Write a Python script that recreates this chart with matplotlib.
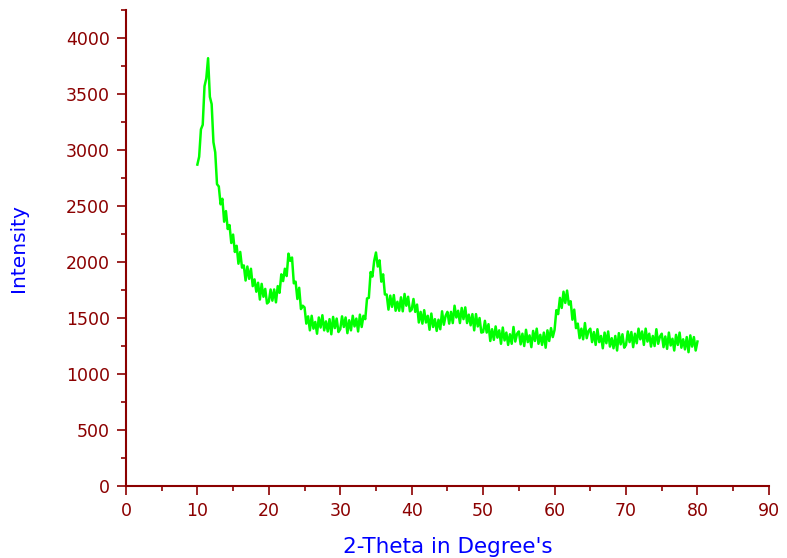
import numpy as np
import matplotlib.pyplot as plt
from matplotlib.ticker import MultipleLocator

# XRD scan, 2-theta from 10 to 80 deg in 0.25 deg steps
theta_start = 10.0
theta_step = 0.25

intensity = [
    # 10.00 - 14.75
    2870, 2940, 3185, 3225, 3570, 3640, 3820, 3475, 3410, 3070,
    2980, 2695, 2675, 2515, 2565, 2360, 2455, 2295, 2330, 2170,
    # 15.00 - 19.75
    2245, 2090, 2145, 1985, 2090, 1950, 1970, 1835, 1960, 1850,
    1940, 1785, 1845, 1735, 1815, 1665, 1805, 1690, 1760, 1630,
    # 20.00 - 24.75
    1645, 1755, 1655, 1755, 1640, 1785, 1725, 1890, 1830, 1940,
    1875, 2075, 2010, 2040, 1810, 1825, 1670, 1770, 1580, 1610,
    # 25.00 - 29.75
    1595, 1450, 1515, 1390, 1520, 1405, 1465, 1360, 1505, 1415,
    1525, 1390, 1470, 1380, 1490, 1355, 1510, 1410, 1495, 1375,
    # 30.00 - 34.75
    1400, 1515, 1420, 1505, 1365, 1480, 1390, 1520, 1425, 1495,
    1380, 1530, 1420, 1520, 1490, 1675, 1680, 1910, 1870, 2010,
    # 35.00 - 39.75
    2085, 1960, 2015, 1825, 1890, 1710, 1710, 1575, 1700, 1600,
    1705, 1565, 1645, 1565, 1685, 1560, 1715, 1610, 1690, 1560,
    # 40.00 - 44.75
    1575, 1670, 1555, 1620, 1460, 1555, 1450, 1570, 1460, 1520,
    1395, 1540, 1420, 1490, 1385, 1485, 1400, 1560, 1440, 1520,
    # 45.00 - 49.75
    1555, 1450, 1555, 1455, 1610, 1505, 1565, 1455, 1590, 1490,
    1595, 1455, 1530, 1435, 1535, 1390, 1535, 1425, 1500, 1370,
    # 50.00 - 54.75
    1375, 1475, 1370, 1445, 1295, 1400, 1305, 1425, 1325, 1390,
    1270, 1415, 1300, 1370, 1260, 1355, 1270, 1420, 1290, 1360,
    # 55.00 - 59.75
    1380, 1265, 1360, 1250, 1395, 1285, 1345, 1240, 1385, 1295,
    1405, 1270, 1350, 1260, 1370, 1235, 1390, 1295, 1410, 1330,
    # 60.00 - 64.75
    1395, 1570, 1535, 1680, 1590, 1735, 1635, 1745, 1620, 1650,
    1485, 1575, 1410, 1450, 1320, 1405, 1310, 1455, 1320, 1385,
    # 65.00 - 69.75
    1405, 1285, 1375, 1260, 1400, 1285, 1340, 1230, 1370, 1275,
    1380, 1245, 1320, 1230, 1340, 1210, 1365, 1265, 1355, 1235,
    # 70.00 - 74.75
    1260, 1380, 1285, 1375, 1240, 1360, 1275, 1405, 1310, 1380,
    1260, 1405, 1290, 1360, 1245, 1340, 1250, 1400, 1270, 1335,
    # 75.00 - 79.75
    1360, 1240, 1335, 1225, 1370, 1255, 1315, 1210, 1350, 1260,
    1370, 1235, 1310, 1220, 1330, 1195, 1345, 1245, 1330, 1210,
    # 80.00
    1290,
]

two_theta = theta_start + theta_step * np.arange(len(intensity))

axis_col = '#8B0000'
plt.rcParams['font.family'] = ['DejaVu Sans']

fig = plt.figure(figsize=(7.87, 5.58), dpi=100)
ax = fig.add_axes([0.160, 0.129, 0.817, 0.853])

ax.plot(two_theta, intensity, color='#00FF00', linewidth=1.8)

ax.set_xlim(0, 90)
ax.set_ylim(0, 4250)
ax.xaxis.set_major_locator(MultipleLocator(10))
ax.xaxis.set_minor_locator(MultipleLocator(5))
ax.yaxis.set_major_locator(MultipleLocator(500))
ax.yaxis.set_minor_locator(MultipleLocator(250))
ax.set_yticks(np.arange(0, 4001, 500))

for side in ['top', 'right']:
    ax.spines[side].set_visible(False)
for side in ['left', 'bottom']:
    ax.spines[side].set_color(axis_col)
    ax.spines[side].set_linewidth(1.5)

ax.tick_params(which='major', direction='out', length=6.5, width=1.2,
               colors=axis_col, labelsize=12.5, pad=5)
ax.tick_params(which='minor', direction='out', length=3.5, width=1.2,
               colors=axis_col)

ax.set_xlabel("2-Theta in Degree's", color='#0000FF', fontsize=15.5, labelpad=12)
ax.set_ylabel('Intensity', color='#0000FF', fontsize=14.5, labelpad=27)

fig.savefig('out.png', dpi=100)
